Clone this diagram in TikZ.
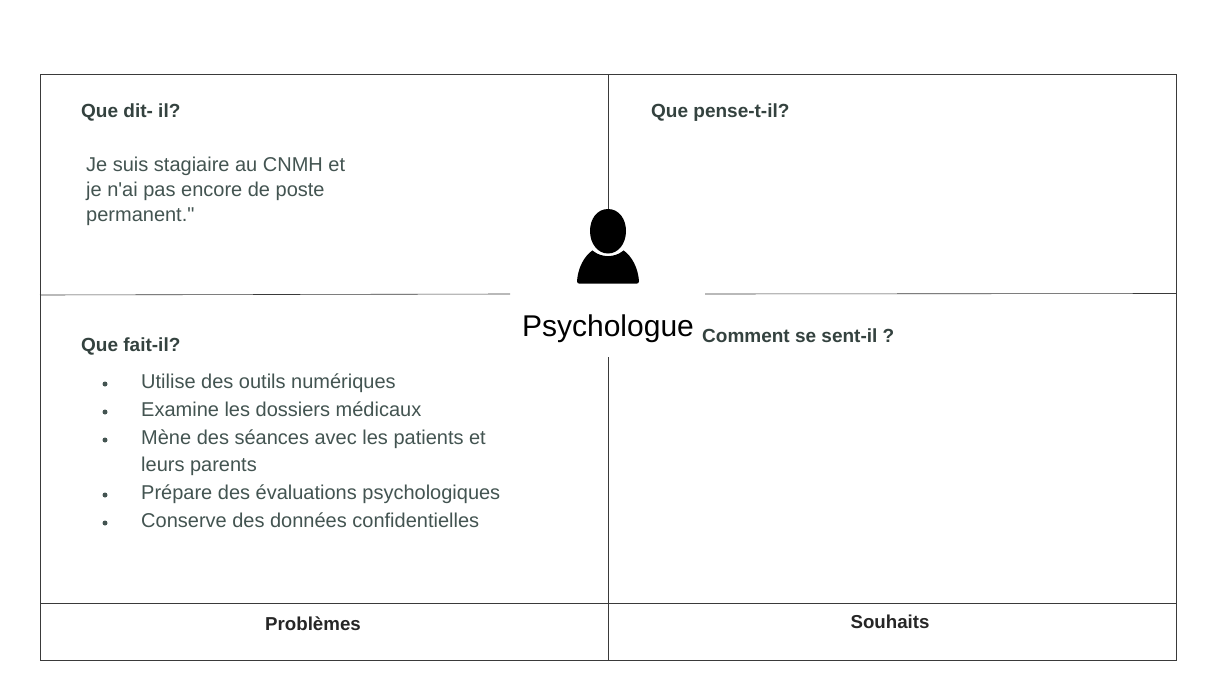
\documentclass[tikz,border=0pt]{standalone}
\usepackage{fontspec}
\setmainfont{Liberation Sans}
\newfontfamily\plainf{Liberation Sans}
\definecolor{headc}{HTML}{34423F}
\definecolor{bodyc}{HTML}{435451}
\definecolor{linec}{HTML}{3A3A3A}
\tikzset{
 x=1pt,y=-1pt,
 frameline/.style={draw=linec,line width=0.6pt},
 head/.style={anchor=base west,inner sep=0,font=\plainf\fontsize{19}{21}\selectfont\bfseries,text=headc},
 bodyt/.style={anchor=base west,inner sep=0,font=\plainf\fontsize{20}{22}\selectfont,text=bodyc},
 foot/.style={anchor=base,inner sep=0,font=\plainf\fontsize{18.7}{20}\selectfont\bfseries,text=black!85},
 dotb/.style={circle,fill=bodyc,inner sep=0,minimum size=5pt},
}
\begin{document}
\begin{tikzpicture}
\useasboundingbox (0,0) rectangle (1210,680);
\fill[white] (0,0) rectangle (1210,680);
\coordinate (tl) at (40,74);
\coordinate (tr) at (1176.5,74);
\coordinate (bl) at (40,660);
\coordinate (br) at (1176.5,660);
\draw[frameline] (tl) -- (tr) -- (br) -- (bl) -- cycle;
\draw[frameline] (608,74) -- (608,209);
\draw[frameline] (608,357) -- (608,660);
\draw[frameline] (40,295) -- (510,294);
\draw[frameline] (705,294) -- (1176.5,293.5);
\draw[frameline] (40,603) -- (1176.5,603);
\node[head] (h1) at (81,117) {Que dit- il?};
\node[head] (h2) at (651,117) {Que pense-t-il?};
\node[head] (h3) at (81,351) {Que fait-il?};
\node[head] (h4) at (702,342) {Comment se sent-il ?};
\node[bodyt] (q1) at (86,171) {Je suis stagiaire au CNMH et};
\node[bodyt] (q2) at (86,196) {je n'ai pas encore de poste};
\node[bodyt] (q3) at (86,221) {permanent."};
\foreach \n/\y/\t/\d in {a/388/Utilise des outils numériques/1,b/416/Examine les dossiers médicaux/1,c/444/Mène des séances avec les patients et/1,d/471/leurs parents/0,e/499/Prépare des évaluations psychologiques/1,f/527/Conserve des données confidentielles/1}{
 \node[bodyt] (l\n) at (141,\y) {\t};
 \ifnum\d=1 \node[dotb] (b\n) at (105,\y-4) {};\fi
}
\node[anchor=base,inner sep=0,font=\plainf\fontsize{30}{32}\selectfont,text=black] (title) at (608,336) {Psychologue};
\node[foot] (p) at (313,630) {Problèmes};
\node[foot] (s) at (890,628) {Souhaits};
\fill[black] (577,281) .. controls (578,268) and (584,256) .. (593,250) .. controls (600,258) and (616,258) .. (623,250) .. controls (632,256) and (638,268) .. (639,281) .. controls (639,283) and (638,283.5) .. (637,283.5) -- (579,283.5) .. controls (578,283.5) and (577,283) .. (577,281) -- cycle;
\draw[white,line width=1.6pt] (590,246) .. controls (597,258) and (619,258) .. (626,246);
\fill[black] (608,209) .. controls (597,209) and (590,219) .. (590,231) .. controls (590,244) and (598,253.5) .. (608,253.5) .. controls (618,253.5) and (626,244) .. (626,231) .. controls (626,219) and (619,209) .. (608,209) -- cycle;
\end{tikzpicture}
\end{document}
